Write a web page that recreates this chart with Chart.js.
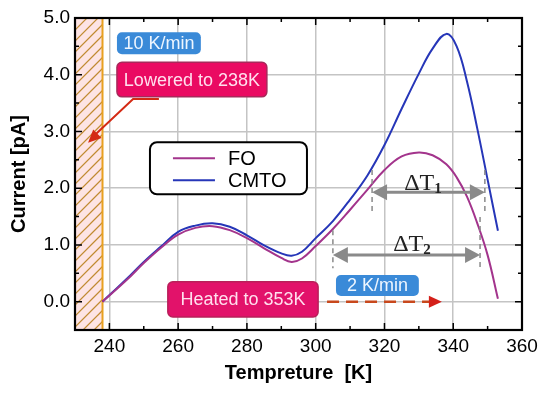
<!DOCTYPE html>
<html>
<head>
<meta charset="utf-8">
<script src="https://cdn.jsdelivr.net/npm/chart.js@4.4.0/dist/chart.umd.min.js"></script>
<style>
  html, body { margin: 0; padding: 0; background: #fff; }
  #wrap { width: 550px; height: 394px; }
</style>
</head>
<body>
<div id="wrap"><canvas id="tsc-chart"></canvas></div>
<script>
// temperature points (K) and measured current (pA)
const temps = [238, 245, 250, 255, 260, 265, 270, 275, 280, 285, 290, 293, 296, 300,
  305, 310, 315, 320, 325, 330, 334, 338, 341, 344, 347, 350, 353];
const foCurrent = [0.00, 0.38, 0.68, 0.95, 1.18, 1.30, 1.33, 1.26, 1.12, 0.94, 0.77, 0.70, 0.76, 0.98,
  1.28, 1.62, 1.97, 2.32, 2.56, 2.63, 2.58, 2.42, 2.19, 1.85, 1.38, 0.82, 0.05];
const cmtoCurrent = [0.00, 0.40, 0.70, 0.97, 1.23, 1.34, 1.38, 1.32, 1.17, 0.99, 0.85, 0.81, 0.88, 1.12,
  1.42, 1.80, 2.22, 2.76, 3.40, 4.02, 4.46, 4.72, 4.50, 3.88, 3.05, 2.15, 1.25];
const seriesNames = ['FO', 'CMTO'];
const xTickLabels = [240, 260, 280, 300, 320, 340, 360];
const yTickLabels = [0, 1, 2, 3, 4, 5];
const cooledTo = 238;

const toPoints = (ys) => temps.map((t, i) => ({ x: t, y: ys[i] }));

function arrowHead(ctx, x, y, dir, len, half) {
  ctx.beginPath();
  ctx.moveTo(x, y);
  ctx.lineTo(x - dir * len, y - half);
  ctx.lineTo(x - dir * len, y + half);
  ctx.closePath();
  ctx.fill();
}

function label(ctx, text, x1, y1, x2, y2, fill, stroke, color) {
  ctx.save();
  ctx.beginPath();
  ctx.roundRect(x1, y1, x2 - x1, y2 - y1, 5);
  ctx.fillStyle = fill;
  ctx.fill();
  if (stroke) { ctx.strokeStyle = stroke; ctx.lineWidth = 1.5; ctx.stroke(); }
  ctx.fillStyle = color;
  ctx.font = '18px "Liberation Sans", Arial, sans-serif';
  ctx.textAlign = 'center';
  ctx.textBaseline = 'middle';
  ctx.fillText(text, (x1 + x2) / 2, (y1 + y2) / 2 + 1);
  ctx.restore();
}

function deltaT(ctx, sub, cx, cy) {
  ctx.save();
  ctx.fillStyle = '#222';
  ctx.textBaseline = 'alphabetic';
  ctx.font = '24px "Liberation Serif", serif';
  const w = ctx.measureText('\u0394T').width;
  ctx.font = 'bold 15px "Liberation Serif", serif';
  const ws = ctx.measureText(sub).width;
  const x0 = cx - (w + ws) / 2;
  ctx.font = '24px "Liberation Serif", serif';
  ctx.fillText('\u0394T', x0, cy + 8);
  ctx.font = 'bold 15px "Liberation Serif", serif';
  ctx.fillText(sub, x0 + w, cy + 11);
  ctx.restore();
}

// hatched cooling region, inward ticks and frame
const framePlugin = {
  id: 'frame',
  beforeDatasetsDraw(chart) {
    const { ctx, chartArea: a, scales: { x } } = chart;
    const xr = x.getPixelForValue(cooledTo);
    ctx.save();
    ctx.beginPath();
    ctx.rect(a.left, a.top, xr - a.left, a.bottom - a.top);
    ctx.clip();
    ctx.fillStyle = '#fde4e4';
    ctx.fillRect(a.left, a.top, xr - a.left, a.bottom - a.top);
    ctx.strokeStyle = '#c08a30';
    ctx.lineWidth = 1.2;
    for (let yy = a.top - 40; yy < a.bottom + 40; yy += 11) {
      ctx.beginPath();
      ctx.moveTo(a.left, yy + 30);
      ctx.lineTo(xr, yy + 30 - (xr - a.left));
      ctx.stroke();
    }
    ctx.restore();
    ctx.save();
    ctx.strokeStyle = '#e8a020';
    ctx.lineWidth = 2;
    ctx.beginPath();
    ctx.moveTo(xr, a.top);
    ctx.lineTo(xr, a.bottom);
    ctx.stroke();
    ctx.restore();
  },
  afterDraw(chart) {
    const { ctx, chartArea: a, scales: { x, y } } = chart;
    ctx.save();
    ctx.strokeStyle = '#000';
    ctx.lineWidth = 1.5;
    x.ticks.forEach(t => {
      const px = x.getPixelForValue(t.value);
      const len = (t.value % 20 === 0) ? 7 : 4;
      ctx.beginPath();
      ctx.moveTo(px, a.bottom); ctx.lineTo(px, a.bottom - len);
      ctx.moveTo(px, a.top); ctx.lineTo(px, a.top + len);
      ctx.stroke();
    });
    y.ticks.forEach(t => {
      const py = y.getPixelForValue(t.value);
      const len = Number.isInteger(t.value) ? 7 : 4;
      ctx.beginPath();
      ctx.moveTo(a.left, py); ctx.lineTo(a.left + len, py);
      ctx.moveTo(a.right, py); ctx.lineTo(a.right - len, py);
      ctx.stroke();
    });
    ctx.lineWidth = 2.2;
    ctx.strokeRect(a.left, a.top, a.right - a.left, a.bottom - a.top);
    ctx.restore();
  }
};

// text boxes, arrows and legend
const notesPlugin = {
  id: 'notes',
  afterDatasetsDraw(chart) {
    const { ctx, scales: { x, y } } = chart;
    const px = v => x.getPixelForValue(v);
    const py = v => y.getPixelForValue(v);

    label(ctx, '10 K/min', px(242.2), py(4.75), px(266.6), py(4.36), '#3a8ad8', null, '#eef6ff');
    label(ctx, 'Lowered to 238K', px(242.2), py(4.22), px(285.8), py(3.61), '#ea0a62', '#a8285a', '#ffe0ee');
    label(ctx, '2 K/min', px(305.9), py(0.47), px(330.0), py(0.10), '#3a8ad8', null, '#eef6ff');
    label(ctx, 'Heated to 353K', px(257.0), py(0.35), px(300.7), py(-0.27), '#e2126a', '#b8205a', '#ffe0ee');

    // cooling arrow
    ctx.save();
    ctx.strokeStyle = '#d42a14';
    ctx.fillStyle = '#d42a14';
    ctx.lineWidth = 2;
    const tipX = px(233.8), tipY = py(2.80);
    const cx = px(246.9), cy = py(3.57);
    ctx.beginPath();
    ctx.moveTo(px(254.4), cy);
    ctx.lineTo(cx, cy);
    ctx.lineTo(tipX + 6, tipY - 7);
    ctx.stroke();
    const ang = Math.atan2(tipY - cy, tipX - cx);
    ctx.translate(tipX, tipY);
    ctx.rotate(ang);
    arrowHead(ctx, 0, 0, 1, 13, 6);
    ctx.restore();

    // heating arrow
    ctx.save();
    ctx.strokeStyle = '#c8481c';
    ctx.lineWidth = 2.5;
    ctx.setLineDash([12, 7]);
    ctx.beginPath();
    ctx.moveTo(px(303.3), py(0));
    ctx.lineTo(px(333.5), py(0));
    ctx.stroke();
    ctx.fillStyle = '#d4201a';
    arrowHead(ctx, px(336.7), py(0), 1, 13, 6);
    ctx.restore();

    // delta T markers
    const spans = [
      { sub: '1', from: 316.4, to: 349.2, at: 1.93, l: [2.32, 1.58], r: [2.32, 1.58], tx: 331.2, ty: 2.11 },
      { sub: '2', from: 305.0, to: 347.8, at: 0.82, l: [1.26, 0.59], r: [1.49, 0.56], tx: 328.0, ty: 1.03 }
    ];
    spans.forEach(s => {
      ctx.save();
      ctx.strokeStyle = '#8a8a8a';
      ctx.fillStyle = '#8a8a8a';
      ctx.lineWidth = 1.5;
      ctx.setLineDash([5, 4]);
      ctx.beginPath();
      ctx.moveTo(px(s.from), py(s.l[0])); ctx.lineTo(px(s.from), py(s.l[1]));
      ctx.moveTo(px(s.to), py(s.r[0])); ctx.lineTo(px(s.to), py(s.r[1]));
      ctx.stroke();
      ctx.setLineDash([]);
      ctx.lineWidth = 3;
      const yy = py(s.at);
      ctx.beginPath();
      ctx.moveTo(px(s.from) + 12, yy); ctx.lineTo(px(s.to) - 12, yy);
      ctx.stroke();
      arrowHead(ctx, px(s.from), yy, -1, 15, 8);
      arrowHead(ctx, px(s.to), yy, 1, 15, 8);
      ctx.restore();
      deltaT(ctx, s.sub, px(s.tx), py(s.ty));
    });

    // legend
    const lx = px(251.8), ly = py(2.81), lw = 157, lh = 52;
    ctx.save();
    ctx.beginPath();
    ctx.roundRect(lx, ly, lw, lh, 7);
    ctx.fillStyle = '#fff';
    ctx.fill();
    ctx.strokeStyle = '#000';
    ctx.lineWidth = 2;
    ctx.stroke();
    ctx.font = '20px "Liberation Sans", Arial, sans-serif';
    ctx.textBaseline = 'middle';
    chart.data.datasets.forEach((ds, i) => {
      const yy = ly + 16 + i * 22;
      ctx.strokeStyle = ds.borderColor;
      ctx.lineWidth = 2;
      ctx.beginPath();
      ctx.moveTo(lx + 23, yy); ctx.lineTo(lx + 65, yy);
      ctx.stroke();
      ctx.fillStyle = '#000';
      ctx.fillText(ds.label, lx + 78, yy + 1);
    });
    ctx.restore();
  }
};

const axisFont = { family: '"Liberation Sans", Arial, sans-serif', size: 19 };
const titleFont = { family: '"Liberation Sans", Arial, sans-serif', size: 20, weight: 'bold' };

new Chart(document.getElementById('tsc-chart'), {
  type: 'line',
  data: {
    datasets: [
      {
        label: seriesNames[0],
        data: toPoints(foCurrent),
        borderColor: '#a3348c',
        borderWidth: 2,
        pointRadius: 0,
        tension: 0.4,
      },
      {
        label: seriesNames[1],
        data: toPoints(cmtoCurrent),
        borderColor: '#2636b8',
        borderWidth: 2,
        pointRadius: 0,
        tension: 0.4,
      },
    ],
  },
  options: {
    responsive: true,
    maintainAspectRatio: false,
    animation: false,
    layout: { padding: { top: 18, right: 28, left: 0, bottom: 0 } },
    plugins: { legend: { display: false }, tooltip: { enabled: false } },
    scales: {
      x: {
        type: 'linear',
        min: 230,
        max: 360,
        afterFit: s => { s.height = 64; },
        ticks: {
          stepSize: 10,
          padding: 5,
          color: '#000',
          font: axisFont,
          maxRotation: 0,
          autoSkip: false,
          callback: v => xTickLabels.includes(v) ? String(v) : '',
        },
        grid: {
          drawTicks: false,
          lineWidth: 1.5,
          color: c => (c.tick && xTickLabels.includes(c.tick.value)) ? '#c4c4c4' : 'rgba(0,0,0,0)',
        },
        border: { display: false },
        title: {
          display: true,
          text: 'Tempreture  [K]',
          color: '#000',
          font: titleFont,
          padding: { top: 0, bottom: 9 },
        },
      },
      y: {
        min: -0.5,
        max: 5,
        afterFit: s => { s.width = 75; },
        ticks: {
          stepSize: 0.5,
          padding: 5,
          color: '#000',
          font: axisFont,
          autoSkip: false,
          callback: v => yTickLabels.includes(v) ? v.toFixed(1) : '',
        },
        grid: {
          drawTicks: false,
          lineWidth: 1.5,
          color: c => (c.tick && yTickLabels.includes(c.tick.value)) ? '#c4c4c4' : 'rgba(0,0,0,0)',
        },
        border: { display: false },
        title: {
          display: true,
          text: 'Current [pA]',
          color: '#000',
          font: titleFont,
          padding: { top: 7, bottom: 0 },
        },
      },
    },
  },
  plugins: [framePlugin, notesPlugin],
});
</script>
</body>
</html>
